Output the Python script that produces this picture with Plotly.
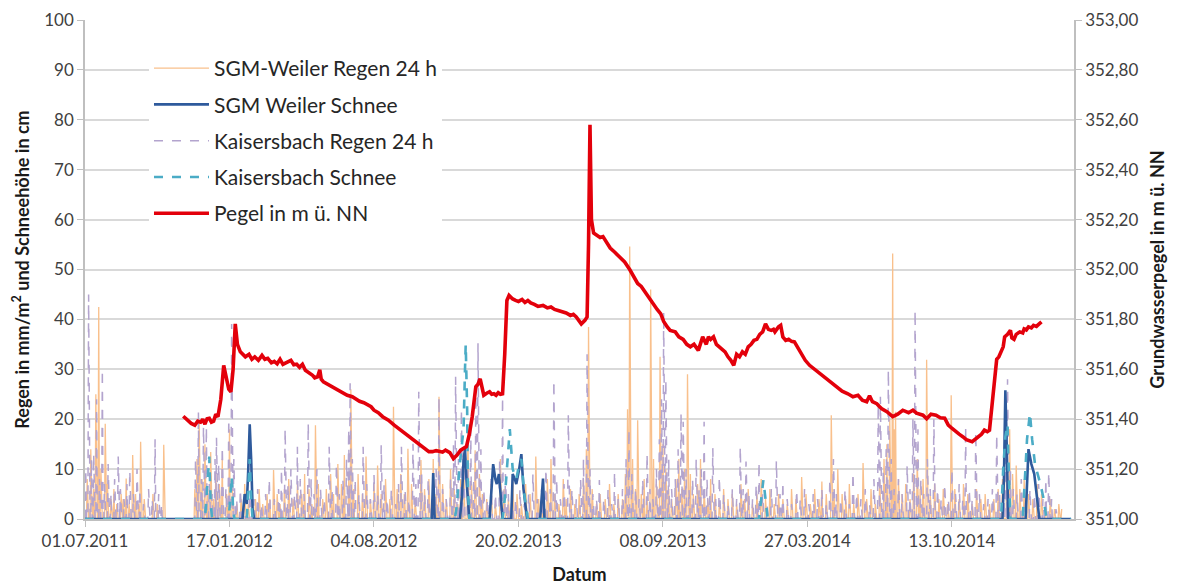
import pandas as pd
import numpy as np
import plotly.graph_objects as go

# ---------------- data (day offsets from 01.07.2011) ----------------
start_date = "2011-07-01"
axis_days = 1369
tick_step_days = 200
tick_labels = ["01.07.2011", "17.01.2012", "04.08.2012", "20.02.2013",
               "08.09.2013", "27.03.2014", "13.10.2014"]

rain_days_last = 1352

weiler_rain_day = [3, 8, 12, 15, 19, 22, 28, 31, 36, 40, 44, 50, 53, 57, 61, 66, 70, 74, 77, 82, 94, 100, 109,
    152, 155, 158, 162, 166, 170, 174, 178, 181, 186, 190, 196, 200, 204, 210, 216, 221, 226, 236, 241, 246,
    252, 256, 261, 266, 270, 276, 282, 288, 294, 300, 304, 310, 314, 319, 323, 329, 334, 340, 344, 350, 355,
    359, 365, 368, 372, 378, 384, 389, 395, 400, 405, 410, 416, 422, 427, 432, 437, 442, 447, 452, 457, 465,
    470, 476, 482, 486, 490, 495, 500, 506, 511, 516, 520, 524, 530, 535, 540, 546, 550, 556, 562, 568, 575,
    580, 586, 592, 598, 604, 610, 616, 624, 628, 634, 640, 645, 650, 656, 662, 666, 672, 678, 684, 690, 694,
    697, 702, 708, 713, 720, 726, 732, 738, 744, 748, 751, 754, 758, 762, 765, 770, 774, 778, 783, 787, 791,
    796, 800, 804, 808, 812, 818, 822, 826, 830, 834, 838, 842, 848, 852, 857, 862, 866, 872, 878, 884, 890,
    896, 902, 908, 913, 918, 924, 930, 936, 942, 948, 954, 960, 966, 972, 978, 984, 992, 998, 1004, 1010,
    1016, 1020, 1026, 1033, 1037, 1042, 1048, 1053, 1058, 1064, 1070, 1077, 1082, 1088, 1094, 1100, 1106,
    1110, 1114, 1118, 1120, 1122, 1126, 1131, 1136, 1142, 1147, 1152, 1156, 1160, 1165, 1170, 1176, 1182,
    1188, 1194, 1199, 1204, 1210, 1216, 1222, 1228, 1234, 1240, 1246, 1252, 1258, 1264, 1270, 1276, 1280,
    1284, 1289, 1294, 1300, 1306, 1312, 1318, 1324, 1330, 1336, 1342, 1348, 1352]
weiler_rain_mm = [8, 14, 6, 25, 42.5, 10, 19.1, 7, 4, 6, 3, 5, 4, 8.1, 3, 12.8, 5, 3, 15.5, 4, 5, 3, 14.9,
    6, 12, 20, 8, 15, 6, 13.4, 4, 9, 7, 12, 5, 18, 6, 3, 4, 7, 3, 4, 6, 3,
    5, 4, 9.8, 5, 3, 6, 8, 4, 7, 5, 9, 6, 3, 18.8, 7, 4, 6, 9, 5, 11, 7,
    12.8, 8, 26, 6, 9, 5, 12.5, 4, 7, 10.7, 5, 8, 4, 22.5, 6, 9, 5, 14.1, 7, 4, 11.8,
    6, 8, 12, 5, 24.5, 7, 4, 10, 6, 3, 8, 13, 16, 7, 13.8, 9, 5, 4, 7, 3, 12,
    6, 4, 8, 5, 3, 7, 5, 12.5, 4, 6, 8, 12, 5, 3, 8, 4, 6, 3, 5, 8, 14,
    38.5, 6, 3, 5, 4, 7, 3, 5, 4, 9, 22, 54.6, 12, 6, 19.8, 5, 8, 4, 46, 12, 7,
    32.5, 15, 10, 6, 4, 8, 12, 6, 10, 29, 9, 5, 7, 12, 6, 4, 8, 5, 3, 6, 4,
    5, 3, 7, 4, 6, 3, 5, 8, 4, 6, 3, 5, 4, 3, 6, 4, 8.4, 5, 3, 6,
    4, 7.5, 5, 20.8, 6, 10, 5, 4, 7, 3, 5, 11.2, 4, 6, 3, 8, 12,
    15, 20, 53.2, 18, 21.5, 8, 5, 7, 4, 9, 12, 6, 8, 31.9, 5, 7, 4,
    6, 3, 24.8, 6, 4, 7, 5, 3, 6, 4, 5, 3, 4, 6, 8, 14, 18,
    9, 10.7, 6, 8, 5, 4, 7, 5, 3, 4, 2, 3, 2]

kaisers_rain_day = [1, 5, 9, 12, 16, 20, 24, 27, 32, 36, 41, 46, 49, 54, 58, 62, 67, 72, 76, 81, 88, 93, 97,
    102, 106, 153, 157, 161, 164, 168, 172, 176, 180, 182, 185, 190, 195, 199, 203, 206, 210, 215, 220, 228,
    234, 239, 244, 250, 255, 262, 268, 272, 277, 281, 285, 290, 294, 298, 303, 309, 313, 317, 321, 326, 331,
    338, 342, 348, 352, 357, 362, 365, 367, 370, 374, 379, 385, 390, 395, 400, 405, 410, 414, 418, 424, 430,
    434, 438, 443, 448, 454, 458, 462, 466, 470, 475, 480, 486, 490, 495, 500, 506, 510, 513, 517, 521, 524,
    530, 534, 538, 541, 544, 548, 552, 557, 562, 568, 574, 578, 582, 586, 591, 596, 602, 608, 614, 620, 626,
    632, 638, 644, 649, 653, 658, 663, 669, 674, 680, 686, 690, 695, 699, 703, 708, 712, 718, 724, 729, 733,
    738, 744, 749, 753, 757, 762, 767, 772, 778, 782, 786, 791, 795, 798, 801, 804, 808, 812, 817, 821, 825,
    828, 832, 836, 841, 846, 850, 853, 857, 861, 865, 869, 873, 878, 884, 890, 896, 902, 907, 911, 915, 919,
    924, 929, 933, 938, 944, 950, 957, 962, 966, 972, 978, 985, 990, 996, 1002, 1008, 1014, 1020, 1026, 1031,
    1036, 1040, 1046, 1052, 1058, 1063, 1068, 1074, 1080, 1086, 1092, 1098, 1101, 1105, 1109, 1112, 1116,
    1120, 1126, 1131, 1138, 1142, 1146, 1149, 1153, 1157, 1161, 1166, 1170, 1175, 1180, 1185, 1190, 1195,
    1200, 1205, 1210, 1215, 1219, 1224, 1228, 1233, 1238, 1244, 1250, 1256, 1262, 1266, 1271, 1274, 1277,
    1281, 1285, 1290, 1296, 1302, 1308, 1314, 1320, 1326, 1330, 1334, 1338, 1344]
kaisers_rain_mm = [10, 45, 12, 13, 24, 8, 30, 7, 11, 5, 8, 12.5, 6, 4, 7, 9.7, 5, 10, 6, 3, 6, 4, 16,
    5, 3, 12, 21.5, 8, 18.5, 18.5, 7, 5, 12, 16.3, 11, 14.5, 6, 20, 39.1, 12, 4, 6, 3, 5,
    4, 6, 3, 5, 8, 4, 6, 10, 18.1, 7, 10, 5, 14.5, 8, 5, 19.2, 8, 5, 10, 6, 4,
    14.5, 6, 11, 5, 8, 12, 18, 27.2, 12, 8, 5, 14.5, 7, 4, 9, 5, 14.8, 7, 4, 6, 3,
    7, 14.5, 6, 4, 15.1, 7, 25.5, 9, 5, 8, 4, 10, 24.5, 6, 4, 8, 15, 28.5, 12, 22, 14,
    10, 18, 8, 25, 35.2, 14, 6, 4, 8, 5, 12, 24.5, 9, 5, 7, 4, 6, 3, 5, 9, 4,
    6, 10, 6, 27.8, 8, 4, 7, 20.8, 6, 4, 8, 12, 33, 10, 5, 4, 7.8, 4, 6, 3, 9.5,
    4, 6, 12, 18, 9, 6, 4, 8, 13.1, 6, 4, 10, 16, 24, 41.5, 28, 12, 6, 8, 14, 21.1,
    19.5, 10, 6, 8, 12, 6, 10, 19.5, 8, 5, 14.2, 4, 8.5, 5, 3, 6, 4, 14.5, 6, 11.5, 5,
    4, 7, 11.5, 5, 3, 6, 11.7, 5, 7.5, 4, 3, 5.8, 4, 6, 3, 5, 4, 6, 3, 8,
    12, 5, 4, 6, 3, 9.3, 5, 4, 6, 3, 8, 23.2, 24.5, 10, 14, 29.9, 12,
    6, 8, 5, 10.7, 6, 20, 41.9, 18, 8, 5, 12, 6, 20, 6, 4, 7, 4,
    10, 5, 7, 4, 18.5, 6, 4, 17.5, 5, 3, 4, 6, 17, 5, 8, 12, 28,
    10, 6, 5, 8, 4, 6, 5, 7, 4, 8, 9.4, 4, 2]

weiler_snow_day = [0, 218, 221, 224, 226, 228, 230, 232, 234, 480, 482, 484, 519, 522, 524, 526, 528, 530, 532,
    560, 562, 565, 568, 570, 573, 576, 578, 590, 592, 595, 597, 601, 604, 607, 610, 612, 630, 632, 634, 636,
    1270, 1272, 1274, 1276, 1278, 1302, 1304, 1306, 1310, 1314, 1318, 1321, 1365]
weiler_snow_cm = [0, 0, 5, 3, 10, 19, 12, 2, 0, 0, 9.2, 0, 0, 5, 11.8, 14, 8, 3, 0,
    0, 4, 11, 8, 7, 9, 3, 0, 0, 9, 8, 7, 10, 13, 6, 3, 0, 0, 5, 8.1, 0,
    0, 8, 25.8, 14, 0, 0, 8, 14, 11, 9, 4, 0, 0]

kaisers_snow_day = [0, 166, 168, 170, 172, 174, 176, 199, 201, 203, 205, 207, 224, 226, 228, 230, 232,
    512, 515, 518, 521, 524, 526, 527, 529, 530, 532, 578, 581, 584, 588, 592, 597, 601, 604, 608, 613,
    933, 936, 939, 942, 945, 1268, 1271, 1274, 1277, 1279, 1281, 1298, 1301, 1304, 1308, 1311, 1315,
    1319, 1323, 1327, 1331, 1365]
kaisers_snow_cm = [0, 0, 4, 8, 12.5, 3, 0, 0, 4, 8.5, 2, 0, 0, 6, 12, 4, 0,
    0, 3, 10, 14, 18, 30, 35, 22, 6, 0, 0, 4, 10, 18, 10, 8, 11, 12, 5, 0,
    0, 4, 7.8, 4, 0, 0, 10, 16.5, 19, 8, 0, 0, 8, 16, 21.2, 16, 11,
    9, 6.7, 4, 0, 0]

pegel_day = [136, 140, 143, 147, 152, 156, 160, 163, 166, 169, 172, 175, 178, 181, 184, 188, 192, 196, 199,
    202, 205, 208, 211, 215, 219, 222, 227, 231, 235, 240, 245, 249, 253, 258, 262, 266, 270, 274, 278, 282,
    285, 289, 293, 297, 301, 305, 308, 312, 315, 318, 322, 325, 327, 330, 336, 343, 350, 356, 363, 370, 375,
    380, 386, 391, 396, 400, 406, 412, 420, 428, 436, 444, 450, 455, 460, 465, 472, 476, 481, 486, 490, 495,
    499, 505, 510, 515, 520, 524, 528, 532, 536, 541, 544, 547, 550, 552, 556, 560, 563, 566, 569, 572, 575,
    578, 581, 584, 587, 590, 592, 596, 600, 605, 609, 613, 617, 622, 627, 634, 640, 645, 650, 655, 661, 666,
    672, 676, 680, 684, 687, 692, 695, 697, 699, 701, 704, 707, 710, 713, 717, 722, 727, 733, 740, 747, 754,
    760, 765, 770, 775, 781, 786, 792, 797, 801, 806, 810, 817, 822, 828, 833, 838, 843, 849, 852, 855, 860,
    863, 866, 870, 874, 878, 882, 886, 890, 894, 898, 902, 906, 910, 914, 918, 922, 926, 930, 934, 938, 942,
    946, 950, 953, 955, 960, 963, 966, 970, 974, 978, 982, 986, 990, 994, 997, 1003, 1010, 1017, 1024, 1032,
    1040, 1048, 1056, 1063, 1070, 1076, 1082, 1086, 1090, 1096, 1100, 1103, 1110, 1118, 1125, 1132, 1140,
    1146, 1151, 1156, 1160, 1165, 1171, 1178, 1184, 1190, 1195, 1199, 1205, 1210, 1215, 1220, 1228, 1236,
    1241, 1245, 1249, 1252, 1257, 1262, 1265, 1268, 1271, 1273, 1277, 1281, 1283, 1286, 1289, 1294, 1298,
    1300, 1303, 1306, 1310, 1313, 1317, 1320, 1324, 1328, 1332, 1336, 1340, 1345, 1349, 1352, 1356, 1360,
    1365]
pegel_m = [351.412, 351.400, 351.390, 351.383, 351.376, 351.392, 351.388, 351.400, 351.380, 351.402, 351.404,
    351.388, 351.392, 351.420, 351.410, 351.480, 351.616, 351.560, 351.520, 351.510, 351.600, 351.782,
    351.700, 351.670, 351.660, 351.650, 351.660, 351.640, 351.650, 351.636, 351.656, 351.640, 351.644,
    351.626, 351.632, 351.622, 351.640, 351.620, 351.626, 351.634, 351.636, 351.618, 351.620, 351.608,
    351.620, 351.596, 351.590, 351.584, 351.576, 351.566, 351.570, 351.598, 351.560, 351.550, 351.540,
    351.530, 351.516, 351.506, 351.496, 351.490, 351.480, 351.472, 351.466, 351.456, 351.450, 351.436,
    351.426, 351.410, 351.396, 351.376, 351.358, 351.342, 351.330, 351.316, 351.306, 351.296, 351.278,
    351.270, 351.270, 351.274, 351.272, 351.268, 351.276, 351.266, 351.242, 351.256, 351.276, 351.282,
    351.290, 351.340, 351.410, 351.530, 351.540, 351.562, 351.510, 351.496, 351.504, 351.510, 351.500,
    351.502, 351.496, 351.506, 351.500, 351.502, 351.660, 351.876, 351.896, 351.884, 351.882, 351.876,
    351.872, 351.880, 351.868, 351.876, 351.866, 351.860, 351.852, 351.856, 351.846, 351.850, 351.840,
    351.836, 351.830, 351.826, 351.816, 351.820, 351.810, 351.796, 351.782, 351.796, 351.810, 352.100,
    352.580, 352.200, 352.146, 352.140, 352.136, 352.128, 352.132, 352.110, 352.086, 352.070, 352.050,
    352.030, 352.000, 351.972, 351.944, 351.932, 351.910, 351.886, 351.860, 351.840, 351.822, 351.792,
    351.770, 351.756, 351.750, 351.730, 351.720, 351.700, 351.690, 351.700, 351.676, 351.700, 351.730,
    351.700, 351.730, 351.720, 351.730, 351.700, 351.690, 351.676, 351.670, 351.650, 351.636, 351.616,
    351.660, 351.650, 351.670, 351.660, 351.690, 351.700, 351.716, 351.720, 351.740, 351.750, 351.782,
    351.760, 351.756, 351.760, 351.750, 351.770, 351.776, 351.730, 351.716, 351.720, 351.712, 351.710,
    351.690, 351.670, 351.656, 351.636, 351.616, 351.600, 351.582, 351.570, 351.550, 351.530, 351.512,
    351.502, 351.490, 351.496, 351.476, 351.470, 351.494, 351.470, 351.462, 351.450, 351.442, 351.430,
    351.410, 351.420, 351.436, 351.426, 351.436, 351.424, 351.420, 351.416, 351.402, 351.420, 351.416,
    351.406, 351.404, 351.376, 351.366, 351.350, 351.340, 351.330, 351.318, 351.310, 351.330, 351.340,
    351.356, 351.350, 351.356, 351.490, 351.640, 351.650, 351.670, 351.690, 351.730, 351.740, 351.756,
    351.726, 351.720, 351.740, 351.750, 351.746, 351.762, 351.758, 351.770, 351.766, 351.776, 351.772,
    351.780, 351.790]

# ---------------- build series ----------------
base = pd.Timestamp(start_date)
def to_dates(days):
    return [base + pd.Timedelta(days=int(d)) for d in days]

all_days = np.arange(0, rain_days_last + 1)
def daily(days, vals):
    arr = np.zeros(len(all_days))
    for d, v in zip(days, vals):
        arr[int(d)] = v
    return arr

rain_dates = to_dates(all_days)
weiler_rain = daily(weiler_rain_day, weiler_rain_mm)
kaisers_rain = daily(kaisers_rain_day, kaisers_rain_mm)

tick_dates = to_dates([i * tick_step_days for i in range(len(tick_labels))])
x_end = base + pd.Timedelta(days=axis_days)

c_orange = "#F9C08C"
c_lav = "#B3A4CE"
c_blue = "#2E5A9C"
c_teal = "#4BACC6"
c_red = "#E3000B"
font_fam = "Lato, 'Open Sans', sans-serif"

fig = go.Figure()
fig.add_trace(go.Scatter(x=rain_dates, y=weiler_rain, mode="lines", name="SGM-Weiler Regen 24 h",
                         line=dict(color=c_orange, width=1.3), legendrank=1, legendgroup="a"))
fig.add_trace(go.Scatter(x=rain_dates, y=kaisers_rain, mode="lines", name="Kaisersbach Regen 24 h",
                         line=dict(color=c_lav, width=1.5, dash="dash"), legendrank=3, legendgroup="c"))
fig.add_trace(go.Scatter(x=to_dates(weiler_snow_day), y=weiler_snow_cm, mode="lines", name="SGM Weiler Schnee",
                         line=dict(color=c_blue, width=2.6), legendrank=2, legendgroup="b"))
fig.add_trace(go.Scatter(x=to_dates(kaisers_snow_day), y=kaisers_snow_cm, mode="lines", name="Kaisersbach Schnee",
                         line=dict(color=c_teal, width=2.6, dash="dash"), legendrank=4, legendgroup="d"))
fig.add_trace(go.Scatter(x=to_dates(pegel_day), y=pegel_m, mode="lines", name="Pegel in m ü. NN",
                         line=dict(color=c_red, width=3.6), yaxis="y2", legendrank=5, legendgroup="e"))

grid_c = "#D9D9D9"
axis_c = "#BFBFBF"
fig.update_layout(
    width=1177, height=587,
    margin=dict(l=85, r=103, t=20, b=68),
    paper_bgcolor="white", plot_bgcolor="white",
    font=dict(family=font_fam, size=17, color="#404040"),
    separators=", ",
    showlegend=True,
    legend=dict(x=0.0647, y=0.944, xanchor="left", yanchor="top", bgcolor="white",
                font=dict(size=21, color="#262626"), tracegroupgap=6, itemwidth=55),
    xaxis=dict(type="date", range=[base, x_end], tickvals=tick_dates, ticktext=tick_labels,
               automargin=False,
               showgrid=False, showline=True, linecolor=axis_c, linewidth=1.5,
               ticks="outside", ticklen=6, tickcolor=axis_c,
               title=dict(text="<b>Datum</b>", font=dict(size=18, color="#1a1a1a"), standoff=18),
               tickfont=dict(size=17, color="#404040"), zeroline=False),
    yaxis=dict(range=[0, 100], dtick=10, showgrid=True, gridcolor=grid_c, gridwidth=1.5,
               automargin=False,
               showline=True, linecolor=axis_c, linewidth=1.5, ticks="outside", ticklen=6,
               tickcolor=axis_c, zeroline=False,
               title=dict(text="<b>Regen in mm/m<sup>2</sup> und Schneehöhe in cm</b>",
                          font=dict(size=18, color="#1a1a1a"), standoff=10)),
    yaxis2=dict(range=[351, 353], dtick=0.2, tickformat=".2f", overlaying="y", side="right",
                automargin=False,
                showgrid=False, showline=True, linecolor=axis_c, linewidth=1.5, ticks="outside",
                ticklen=6, tickcolor=axis_c, zeroline=False,
                title=dict(text="<b>Grundwasserpegel in m ü. NN</b>",
                           font=dict(size=18, color="#1a1a1a"), standoff=14)),
)

fig.write_html("out.html", config={"displayModeBar": False},
               post_script="document.body.style.margin='0px';")
